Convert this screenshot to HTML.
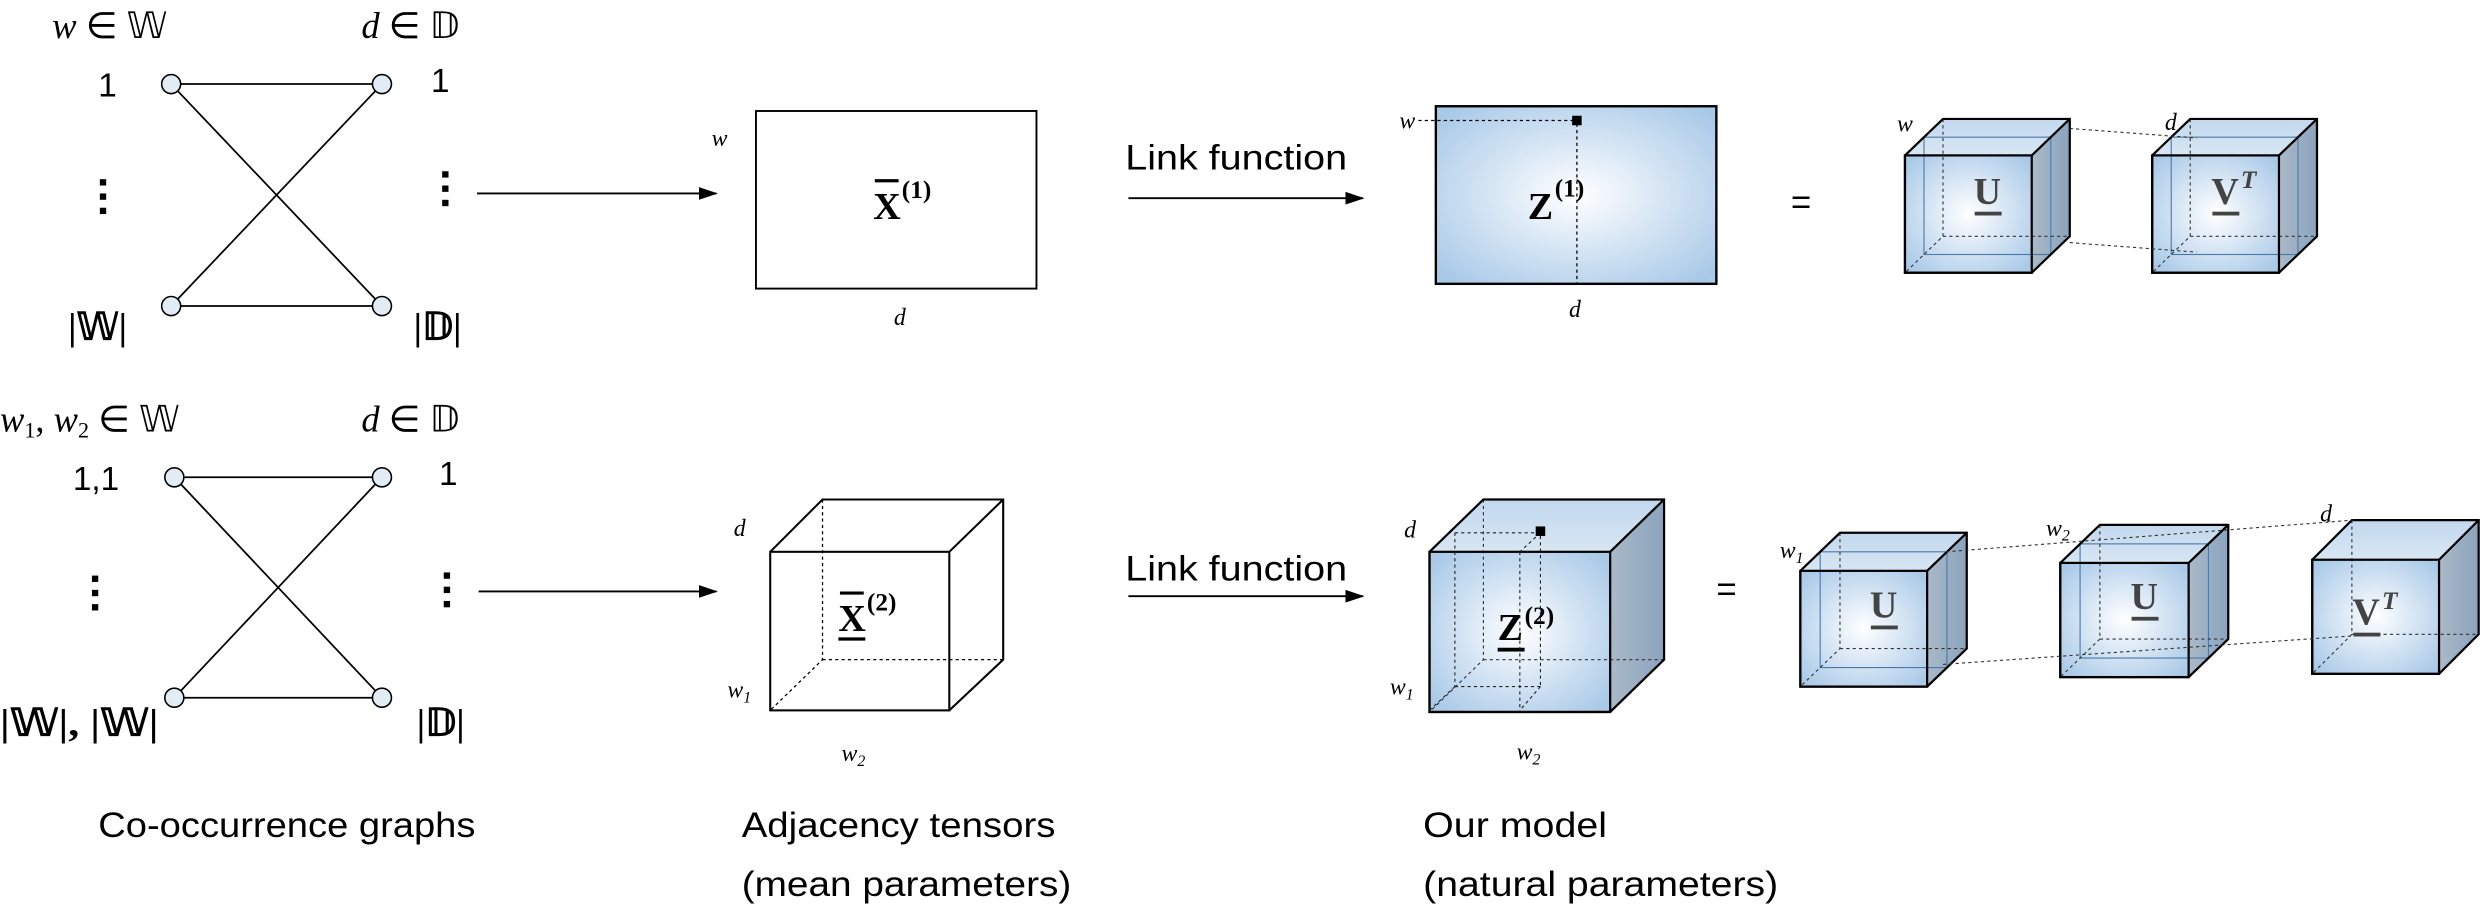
<!DOCTYPE html>
<html><head><meta charset="utf-8">
<style>
html,body{margin:0;padding:0;background:#fff;}
svg{display:block;}
.cap{font-family:"Liberation Sans",sans-serif;font-size:22px;fill:#000;}
.m{font-family:"Liberation Serif",serif;font-style:italic;fill:#000;}
.num{font-family:"Liberation Sans",sans-serif;font-size:21px;fill:#000;}
.b{font-family:"Liberation Serif",serif;font-weight:bold;fill:#000;}
.g{font-family:"Liberation Serif",serif;font-weight:bold;fill:#444;}
</style></head>
<body>
<svg id="fig" width="2485" height="907" viewBox="0 0 1568 572" preserveAspectRatio="none" xmlns="http://www.w3.org/2000/svg">
<defs>
<radialGradient id="front" cx="50%" cy="50%" r="65%">
<stop offset="0" stop-color="#ffffff"/><stop offset="1" stop-color="#a9c9e8"/></radialGradient>
<linearGradient id="side" x1="0" x2="1" y1="0" y2="0">
<stop offset="0" stop-color="#aab9c8"/><stop offset="1" stop-color="#8aa3bd"/></linearGradient>
<linearGradient id="top" x1="0" x2="0" y1="0" y2="1">
<stop offset="0" stop-color="#c2d8ee"/><stop offset="1" stop-color="#d8e6f3"/></linearGradient>
<marker id="arr" markerWidth="12" markerHeight="8" refX="11" refY="4" orient="auto" markerUnits="userSpaceOnUse">
<path d="M0,0 L12,4 L0,8 Z" fill="#000"/></marker>
</defs>

<!-- Top bipartite graph -->
<g>
<text class="m" x="33" y="24" font-size="23">w <tspan font-style="normal">∈ 𝕎</tspan></text>
<text class="m" x="228" y="24" font-size="23">d <tspan font-style="normal">∈ 𝔻</tspan></text>
<g stroke="#000" stroke-width="1.1">
<line x1="108" y1="53" x2="241" y2="53"/><line x1="108" y1="193" x2="241" y2="193"/>
<line x1="108" y1="53" x2="241" y2="193"/><line x1="108" y1="193" x2="241" y2="53"/>
</g>
<g fill="#e2ecf5" stroke="#000" stroke-width="1">
<circle cx="108" cy="53" r="6"/><circle cx="241" cy="53" r="6"/><circle cx="108" cy="193" r="6"/><circle cx="241" cy="193" r="6"/>
</g>
<text class="num" x="62" y="61">1</text><text class="num" x="272" y="58">1</text>
<rect x="63" y="113" width="4" height="4"/><rect x="63" y="122" width="4" height="4"/><rect x="63" y="131" width="4" height="4"/>
<rect x="279" y="108" width="4" height="4"/><rect x="279" y="117" width="4" height="4"/><rect x="279" y="126" width="4" height="4"/>
<text class="b" x="43" y="214" font-size="24" font-weight="normal">|𝕎|</text>
<text class="b" x="261" y="214" font-size="24" font-weight="normal">|𝔻|</text>
</g>
<line x1="301" y1="122" x2="452" y2="122" stroke="#000" stroke-width="1.2" marker-end="url(#arr)"/>

<!-- X1 matrix -->
<rect x="477" y="70" width="177" height="112" fill="#fff" stroke="#000" stroke-width="1.2"/>
<text class="m" x="449" y="92" font-size="15">w</text>
<text class="m" x="564" y="205" font-size="15">d</text>
<text class="b" x="551" y="138" font-size="24">X</text><line x1="552" y1="114" x2="567" y2="114" stroke="#000" stroke-width="2"/>
<text class="b" x="569" y="125" font-size="16" font-weight="normal">(1)</text>

<!-- Link function 1 -->
<text class="cap" x="710" y="107" font-size="22" textLength="140" lengthAdjust="spacingAndGlyphs">Link function</text>
<line x1="712" y1="125" x2="860" y2="125" stroke="#000" stroke-width="1.2" marker-end="url(#arr)"/>

<!-- Z1 -->
<rect x="906" y="67" width="177" height="112" fill="url(#front)" stroke="#000" stroke-width="1.5"/>
<line x1="895" y1="76" x2="993" y2="76" stroke="#000" stroke-width="0.8" stroke-dasharray="2,2"/>
<line x1="995" y1="78" x2="995" y2="179" stroke="#000" stroke-width="0.8" stroke-dasharray="2,2"/>
<rect x="992" y="73" width="6" height="6" fill="#000"/>
<text class="m" x="883" y="81" font-size="15">w</text>
<text class="m" x="990" y="200" font-size="15">d</text>
<text class="b" x="964" y="138" font-size="24">Z</text><text class="b" x="981" y="124" font-size="16" font-weight="normal">(1)</text>
<text class="cap" x="1130" y="135" font-size="26">=</text>

<g id="cubes"></g>

<!-- Bottom graph -->
<g>
<text class="m" x="0" y="272" font-size="23">w<tspan font-size="14" dy="4" font-style="normal">1</tspan><tspan dy="-4" font-style="normal">, </tspan>w<tspan font-size="14" dy="4" font-style="normal">2</tspan><tspan dy="-4" font-style="normal"> ∈ 𝕎</tspan></text>
<text class="m" x="228" y="272" font-size="23">d <tspan font-style="normal">∈ 𝔻</tspan></text>
<g stroke="#000" stroke-width="1.1">
<line x1="110" y1="301" x2="241" y2="301"/><line x1="110" y1="440" x2="241" y2="440"/>
<line x1="110" y1="301" x2="241" y2="440"/><line x1="110" y1="440" x2="241" y2="301"/>
</g>
<g fill="#e2ecf5" stroke="#000" stroke-width="1">
<circle cx="110" cy="301" r="6"/><circle cx="241" cy="301" r="6"/><circle cx="110" cy="440" r="6"/><circle cx="241" cy="440" r="6"/>
</g>
<text class="num" x="46" y="309">1,1</text><text class="num" x="277" y="306">1</text>
<rect x="58" y="363" width="4" height="4"/><rect x="58" y="372" width="4" height="4"/><rect x="58" y="381" width="4" height="4"/>
<rect x="280" y="361" width="4" height="4"/><rect x="280" y="370" width="4" height="4"/><rect x="280" y="379" width="4" height="4"/>
<text class="b" x="0" y="464" font-size="24" font-weight="normal" textLength="100" lengthAdjust="spacingAndGlyphs">|𝕎|, |𝕎|</text>
<text class="b" x="263" y="464" font-size="24" font-weight="normal">|𝔻|</text>
</g>
<line x1="302" y1="373" x2="452" y2="373" stroke="#000" stroke-width="1.2" marker-end="url(#arr)"/>

<!-- X2 cube (white) -->
<g fill="none" stroke="#000">
<path d="M519,315 L519,416 L486,448 M519,416 L633,416" stroke-width="0.8" stroke-dasharray="2,2"/>
<rect x="486" y="348" width="113" height="100" stroke-width="1.3"/>
<path d="M486,348 L519,315 L633,315 L633,416 L599,448 M599,348 L633,315" stroke-width="1.3"/>
</g>
<text class="m" x="463" y="338" font-size="15">d</text>
<text class="m" x="459" y="440" font-size="15">w<tspan font-size="10" dy="3">1</tspan></text>
<text class="m" x="531" y="480" font-size="15">w<tspan font-size="10" dy="3">2</tspan></text>
<text class="b" x="529" y="398" font-size="24">X</text><line x1="530" y1="374" x2="545" y2="374" stroke="#000" stroke-width="2"/><line x1="529" y1="403" x2="546" y2="403" stroke="#000" stroke-width="2"/>
<text class="b" x="547" y="385" font-size="16" font-weight="normal">(2)</text>

<text class="cap" x="710" y="366" font-size="22" textLength="140" lengthAdjust="spacingAndGlyphs">Link function</text>
<line x1="712" y1="376" x2="860" y2="376" stroke="#000" stroke-width="1.2" marker-end="url(#arr)"/>

<text class="m" x="886" y="339" font-size="15">d</text>
<text class="m" x="877" y="438" font-size="15">w<tspan font-size="10" dy="3">1</tspan></text>
<text class="m" x="957" y="479" font-size="15">w<tspan font-size="10" dy="3">2</tspan></text>
<text class="cap" x="1083" y="379" font-size="26">=</text>

<text class="m" x="1197" y="83" font-size="15">w</text>
<text class="m" x="1366" y="82" font-size="15">d</text>
<text class="m" x="1123" y="352" font-size="15">w<tspan font-size="10" dy="3">1</tspan></text>
<text class="m" x="1291" y="338" font-size="15">w<tspan font-size="10" dy="3">2</tspan></text>
<text class="m" x="1464" y="329" font-size="15">d</text>

<!-- Captions -->
<text class="cap" x="62" y="528" textLength="238" lengthAdjust="spacingAndGlyphs">Co-occurrence graphs</text>
<text class="cap" x="468" y="528" textLength="198" lengthAdjust="spacingAndGlyphs">Adjacency tensors</text>
<text class="cap" x="468" y="565" textLength="208" lengthAdjust="spacingAndGlyphs">(mean parameters)</text>
<text class="cap" x="898" y="528" textLength="116" lengthAdjust="spacingAndGlyphs">Our model</text>
<text class="cap" x="898" y="565" textLength="224" lengthAdjust="spacingAndGlyphs">(natural parameters)</text>
</svg>
<script>
var NS='http://www.w3.org/2000/svg';
var host=document.getElementById('cubes');
function mk(tag,attrs,parent){var e=document.createElementNS(NS,tag);for(var k in attrs)e.setAttribute(k,attrs[k]);(parent||host).appendChild(e);return e;}
function cube(name,x,y,w,h,dx,dy,label,sup,inner){
  var g=mk('g',{});
  
  
  var bx=x+dx,by=y-dy;
  mk('path',{d:'M'+x+','+y+' L'+bx+','+by+' L'+(bx+w)+','+by+' L'+(x+w)+','+y+' Z',fill:'url(#top)'},g);
  mk('path',{d:'M'+(x+w)+','+y+' L'+(bx+w)+','+by+' L'+(bx+w)+','+(by+h)+' L'+(x+w)+','+(y+h)+' Z',fill:'url(#side)'},g);
  mk('rect',{x:x,y:y,width:w,height:h,fill:'url(#front)'},g);
  if(inner){
    mk('rect',{x:x+dx/2,y:y-dy/2,width:w,height:h,fill:'none',stroke:'#4a78a8','stroke-width':0.7},g);
  }
  mk('path',{d:'M'+bx+','+by+' L'+bx+','+(by+h)+' L'+(x)+','+(y+h)+' M'+bx+','+(by+h)+' L'+(bx+w)+','+(by+h),fill:'none',stroke:'#333','stroke-width':0.7,'stroke-dasharray':'2,2'},g);
  mk('path',{d:'M'+x+','+y+' L'+bx+','+by+' L'+(bx+w)+','+by+' L'+(bx+w)+','+(by+h)+' L'+(x+w)+','+(y+h)+' L'+x+','+(y+h)+' Z M'+(x+w)+','+y+' L'+(bx+w)+','+by,fill:'none',stroke:'#000','stroke-width':1.4},g);
  mk('rect',{x:x,y:y,width:w,height:h,fill:'none',stroke:'#000','stroke-width':1.4},g);
  if(label){
    var cx=x+w/2+(inner?dx/2:0)-(sup?6:0), cy=y+h/2-(inner?dy/2:0)+5;
    var t=mk('text',{x:cx,y:cy,'font-size':24,'text-anchor':'middle','class':label=='Z'?'b':'g'},g);
    t.textContent=label;
    mk('rect',{x:cx-8,y:cy+5,width:17,height:2.4,fill:label=='Z'?'#000':'#444'},g);
    if(sup){var s=mk('text',{x:cx+(label=='Z'?9:10),y:cy-10,'font-size':16,'class':label=='Z'?'b':'g','font-style':sup=='T'?'italic':'normal','font-weight':label=='Z'?'normal':'bold'},g);s.textContent=sup;}
  }
  return g;
}
function dash(x1,y1,x2,y2){var l=mk('line',{x1:x1,y1:y1,x2:x2,y2:y2,stroke:'#333','stroke-width':0.7,'stroke-dasharray':'2,2'});

}
cube('cube-u-top',1202,98,80,74,24,23,'U','',true);
cube('cube-vt-top',1358,98,80,74,24,23,'V','T',true);
dash(1306,81,1386,87);dash(1306,153,1386,159);
cube('tensor-z2',902,348,114,101,34,33,'Z','(2)',false);
var zi=[[918,336,972,336],[918,336,918,433],[918,433,972,433],[972,338,972,433],[972,336,959,348],[959,348,959,449],[918,433,902,448],[972,433,959,448]];
zi.forEach(function(a){var l=mk('line',{x1:a[0],y1:a[1],x2:a[2],y2:a[3],stroke:'#222','stroke-width':0.7,'stroke-dasharray':'2,2'});

});
var sq=mk('rect',{x:969,y:332,width:6,height:6,fill:'#000'});


cube('cube-u1',1136,360,80,73,25,24,'U','',true);
cube('cube-u2',1300,355,81,72,25,24,'U','',true);
cube('cube-vt',1459,353,80,72,25,25,'V','T',false);
dash(1228,348,1485,328);dash(1226,419,1485,401);
</script>
</body></html>
